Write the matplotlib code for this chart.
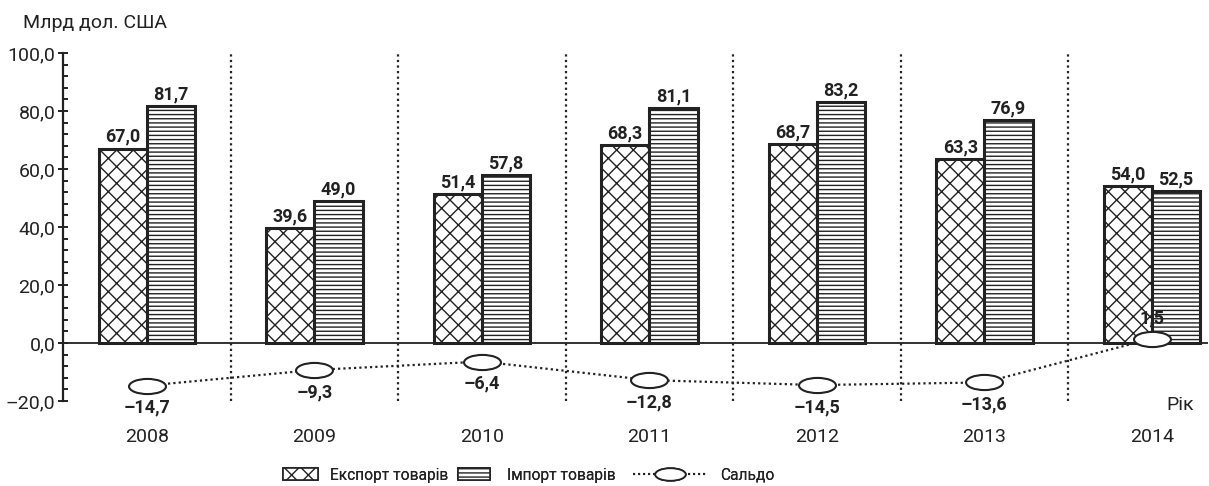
import matplotlib
matplotlib.use("Agg")
import matplotlib.pyplot as plt
import numpy as np
from matplotlib.path import Path
from matplotlib.patches import Patch
from matplotlib.lines import Line2D
from matplotlib.ticker import MultipleLocator, FuncFormatter

plt.rcParams['font.family'] = ['Roboto', 'DejaVu Sans']
plt.rcParams['hatch.linewidth'] = 1.0

years = ['2008', '2009', '2010', '2011', '2012', '2013', '2014']
export = [67.0, 39.6, 51.4, 68.3, 68.7, 63.3, 54.0]
imports = [81.7, 49.0, 57.8, 81.1, 83.2, 76.9, 52.5]
saldo = [-14.7, -9.3, -6.4, -12.8, -14.5, -13.6, 1.5]

W, H = 1209, 486
fig = plt.figure(figsize=(W / 100, H / 100), dpi=100)
ax = fig.add_axes([63 / W, 85 / H, 1145 / W, 348 / H])

x = np.arange(len(years))
bw = 0.288
ec = '#222222'

ax.bar(x - bw / 2, export, bw, facecolor='white', edgecolor=ec, hatch='xx', linewidth=2.2, zorder=2)
ax.bar(x + bw / 2, imports, bw, facecolor='white', edgecolor=ec, hatch='----', linewidth=2.2, zorder=2)

def fmt(v):
    return f"{v:.1f}".replace('.', ',').replace('-', '–')

for xi, v in zip(x - bw / 2, export):
    ax.annotate(fmt(v), (xi, v), xytext=(0, 2), textcoords='offset points',
                ha='center', va='bottom', fontsize=13, fontweight='bold', color='#222')
for xi, v in zip(x + bw / 2, imports):
    ax.annotate(fmt(v), (xi, v), xytext=(0, 2), textcoords='offset points',
                ha='center', va='bottom', fontsize=13, fontweight='bold', color='#222')

# ellipse marker
circ = Path.unit_circle()
ell = Path(circ.vertices * np.array([1.0, 0.41]), circ.codes)

ax.plot(x, saldo, color='#222', linestyle=(0, (1, 1.4)), linewidth=1.6,
        marker=ell, markersize=26.6, markerfacecolor='white', markeredgecolor='#222',
        markeredgewidth=1.5, zorder=4)
for xi, v in zip(x, saldo):
    off = -16 if v < 0 else 14.5
    ax.annotate(fmt(v), (xi, v), xytext=(0, off), textcoords='offset points',
                ha='center', va='center', fontsize=13, fontweight='bold', color='#222', zorder=5)

# separators
for s in np.arange(0.5, len(years) - 1, 1.0):
    ax.axvline(s, color='#222', linestyle=(0, (1, 1.5)), linewidth=1.6, zorder=1)

ax.axhline(0, color='#222', linewidth=1.3, zorder=3)

ax.set_xlim(-0.5, 6.335)
ax.set_ylim(-20, 100)

for side in ['top', 'right', 'bottom']:
    ax.spines[side].set_visible(False)
ax.spines['left'].set_linewidth(1.6)
ax.spines['left'].set_color('#222')

ax.yaxis.set_major_locator(MultipleLocator(20))
ax.yaxis.set_minor_locator(MultipleLocator(4))
ax.yaxis.set_major_formatter(FuncFormatter(lambda v, p: fmt(v)))
ax.tick_params(axis='y', which='major', direction='inout', length=7, width=1.4,
               labelsize=14, pad=2, colors='#222')
ax.tick_params(axis='y', which='minor', direction='in', length=3.5, width=1.4, colors='#222')
ax.set_xticks([])

for xi, yr in zip(x, years):
    ax.annotate(yr, (xi, 0), xycoords=('data', 'axes fraction'), xytext=(0, -26),
                textcoords='offset points', ha='center', va='center', fontsize=14, color='#222')

fig.text(23 / W, 1 - 23 / H, 'Млрд дол. США', ha='left', va='center', fontsize=14, color='#222')
fig.text(1180 / W, 1 - 405 / H, 'Рік', ha='center', va='center', fontsize=14, color='#222')

# legend
fs = 11.2
em = fs * 100 / 72
ly = 1 - 475 / H
h1 = Patch(facecolor='white', edgecolor=ec, hatch='xx', linewidth=1.2)
h2 = Patch(facecolor='white', edgecolor=ec, hatch='----', linewidth=1.2)
h3 = Line2D([], [], color='#222', linestyle=(0, (1, 1.4)), linewidth=1.5,
            marker=ell, markersize=22, markerfacecolor='white', markeredgecolor='#222',
            markeredgewidth=1.3)
specs = [
    (h1, 'Експорт товарів', 283, 35, 12),
    (h2, 'Імпорт товарів', 458, 32, 17),
    (h3, 'Сальдо', 633, 74, 13),
]
for h, lab, x0, hl, pad in specs:
    lg = fig.legend([h], [lab], loc='center left', bbox_to_anchor=(x0 / W, ly),
                    frameon=False, fontsize=fs, borderpad=0, borderaxespad=0,
                    handlelength=hl / em, handleheight=13 / em, handletextpad=pad / em,
                    numpoints=1)
    for t in lg.get_texts():
        t.set_color('#222')
    fig.add_artist(lg)

fig.savefig('out.png', dpi=100)
